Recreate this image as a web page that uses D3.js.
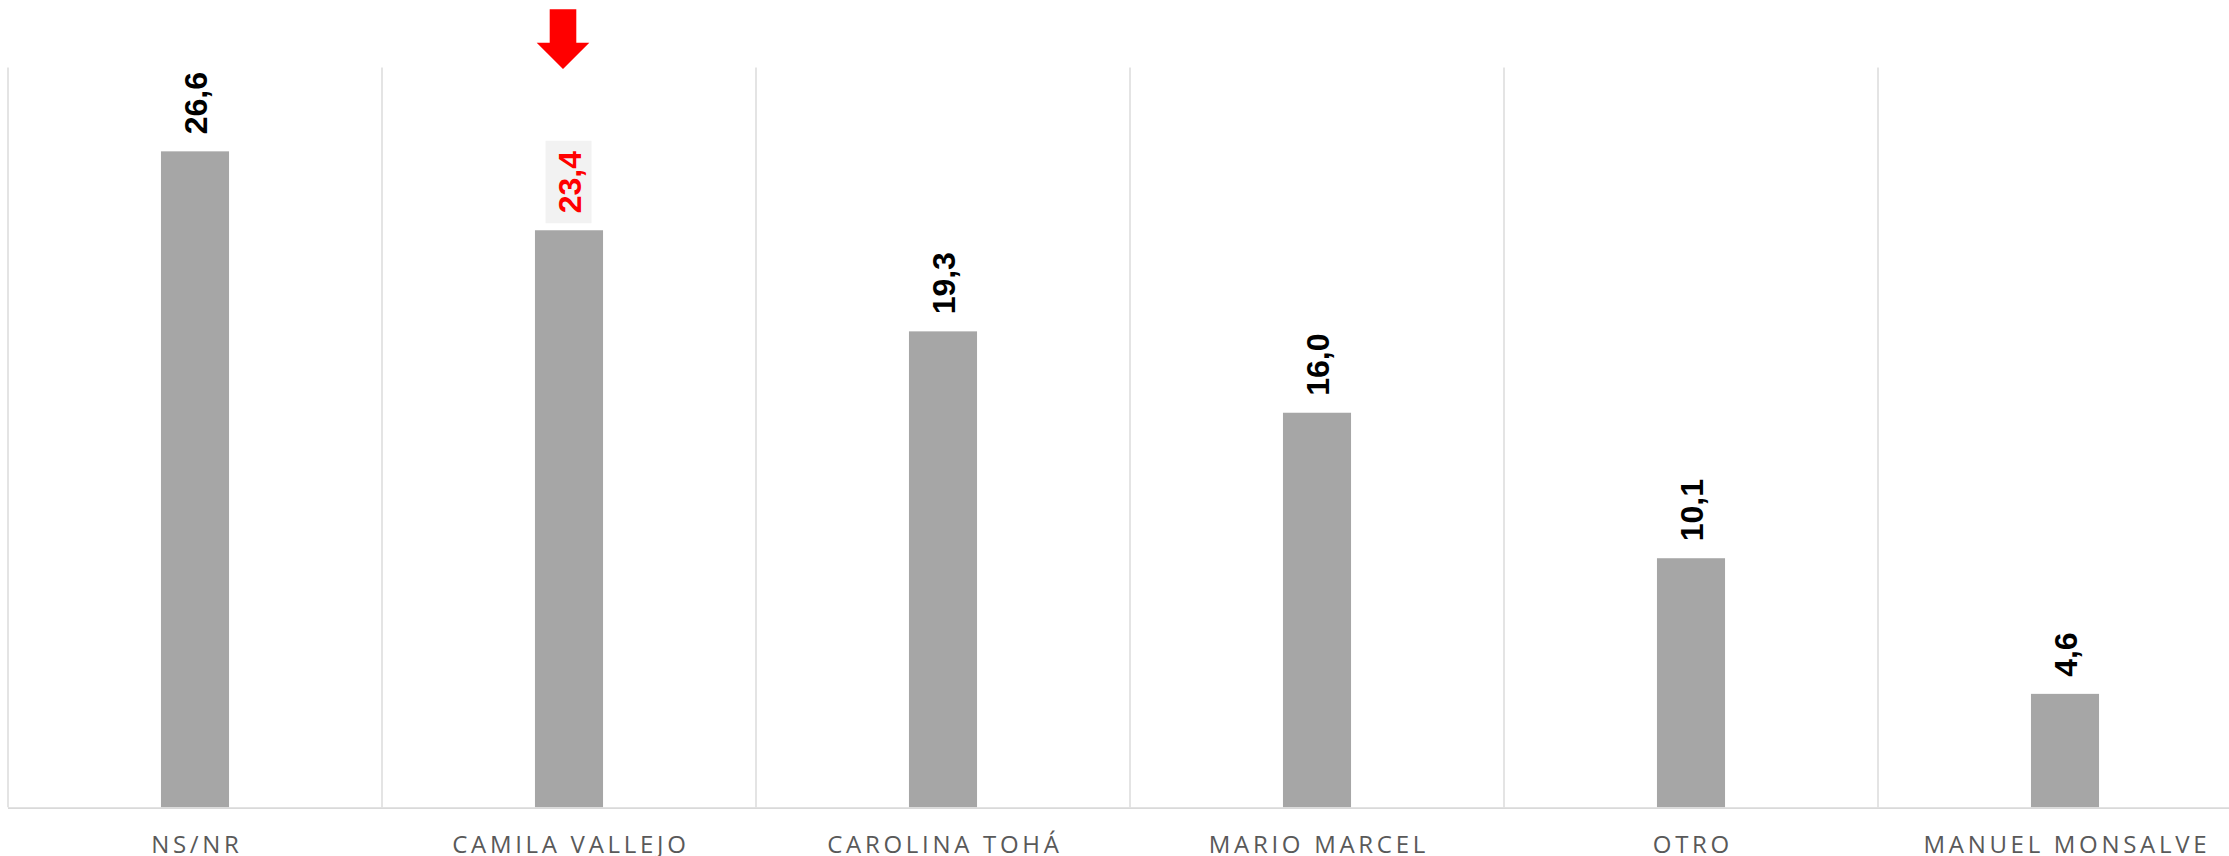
<!DOCTYPE html>
<html>
<head>
<meta charset="utf-8">
<script src="https://cdn.jsdelivr.net/npm/d3@7"></script>
<style>
  html, body { margin: 0; padding: 0; background: #fff; }
  svg { display: block; }
</style>
</head>
<body>
<script>
// ---- data ----
const categories = ["NS/NR", "CAMILA VALLEJO", "CAROLINA TOHÁ", "MARIO MARCEL", "OTRO", "MANUEL MONSALVE"];
const values = [26.6, 23.4, 19.3, 16.0, 10.1, 4.6];
const highlighted = ["CAMILA VALLEJO"];
const yDomain = [0, 30];

// ---- layout ----
const W = 2229, H = 856;
const left = 8, step = 374;
const yBottom = 807.3, yTop = 67.5;

const svg = d3.select("body").append("svg")
  .attr("width", W).attr("height", H)
  .attr("viewBox", `0 0 ${W} ${H}`);

svg.append("rect").attr("width", W).attr("height", H).attr("fill", "#fff");

const x = d3.scaleBand()
  .domain(categories)
  .range([left, left + step * categories.length])
  .paddingInner(0.818)
  .paddingOuter(0.409);

const y = d3.scaleLinear().domain(yDomain).range([yBottom, yTop]);

const catStart = d => x(d) - x.step() * x.paddingOuter();
const catCenter = d => x(d) + x.bandwidth() / 2;

// vertical gridlines at category boundaries
svg.append("g").selectAll("line")
  .data(categories)
  .join("line")
  .attr("x1", d => catStart(d)).attr("x2", d => catStart(d))
  .attr("y1", y(yDomain[1])).attr("y2", y(0))
  .attr("stroke", "#d9d9d9").attr("stroke-width", 1.4);

// bars
svg.append("g").selectAll("rect")
  .data(categories)
  .join("rect")
  .attr("x", d => x(d))
  .attr("width", x.bandwidth())
  .attr("y", (d, i) => y(values[i]))
  .attr("height", (d, i) => y(0) - y(values[i]))
  .attr("fill", "#a6a6a6");

// baseline axis
const xAxis = d3.axisBottom(x).tickSize(0).tickPadding(0);
const gx = svg.append("g").attr("transform", `translate(0,${y(0) + 0.8})`).call(xAxis);
gx.select(".domain").attr("stroke", "#d9d9d9").attr("stroke-width", 1.6)
  .attr("d", `M${left},0H${W}`);
gx.selectAll(".tick text")
  .attr("y", 45)
  .attr("dy", 0)
  .attr("dx", 1.85)
  .attr("fill", "#595959")
  .style("font-family", "'Open Sans', sans-serif")
  .style("font-size", "24px")
  .style("letter-spacing", "3.7px");

// value labels (rotated)
const fmt = v => d3.format(".1f")(v).replace(".", ",");
const labels = svg.append("g").selectAll("g")
  .data(categories)
  .join("g")
  .attr("transform", (d, i) => `translate(${catCenter(d)},${y(values[i]) - 17}) rotate(-90)`);

labels.append("text")
  .attr("text-anchor", "start")
  .attr("dy", "0.36em")
  .attr("fill", d => highlighted.includes(d) ? "#ff0000" : "#000")
  .style("font-family", "'Liberation Sans', Arial, sans-serif")
  .style("font-weight", "bold")
  .style("font-size", "32px")
  .text((d, i) => fmt(values[i]));

labels.filter(d => highlighted.includes(d)).each(function() {
  const g = d3.select(this);
  const bb = g.select("text").node().getBBox();
  g.insert("rect", "text")
    .attr("x", bb.x - 10)
    .attr("y", bb.y - 6)
    .attr("width", bb.width + 20)
    .attr("height", bb.height + 10)
    .attr("fill", "#f2f2f2");
});

// red arrow pointing to the highlighted category
highlighted.forEach(h => {
  const cx = catCenter(h) - 6;
  const p = d3.path();
  p.moveTo(cx - 13.3, 9.3);
  p.lineTo(cx + 13.3, 9.3);
  p.lineTo(cx + 13.3, 42.7);
  p.lineTo(cx + 26.3, 42.7);
  p.lineTo(cx, 69);
  p.lineTo(cx - 26.3, 42.7);
  p.lineTo(cx - 13.3, 42.7);
  p.closePath();
  svg.append("path").attr("d", p.toString()).attr("fill", "#ff0000");
});
</script>
</body>
</html>
